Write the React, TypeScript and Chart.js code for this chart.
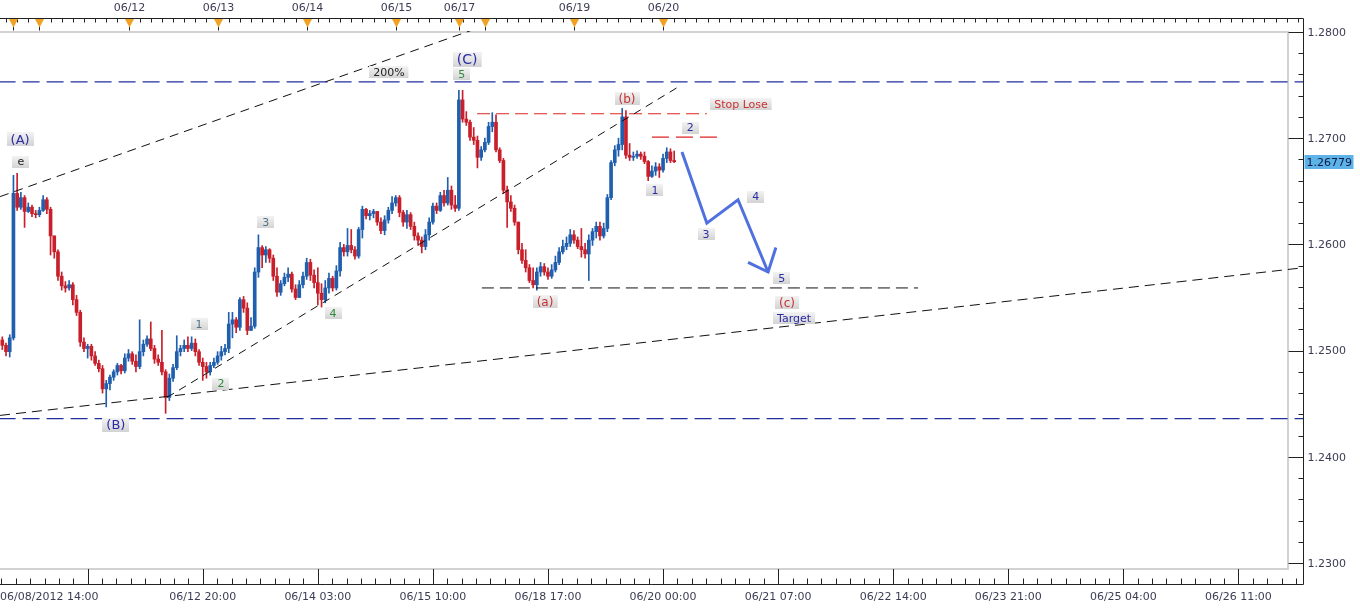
import React, { useEffect, useRef } from "react";
import { Chart, registerables } from "chart.js";

Chart.register(...registerables);

// ---------- hourly EUR/USD candles (bar 0 = 06/08/2012 14:00, weekends skipped) ----------
const open = [
  1.2510, 1.2505, 1.2499, 1.2512, 1.2648, 1.2635, 1.2644, 1.2631, 1.2635, 1.2629,
  1.2628, 1.2632, 1.2642, 1.2633, 1.2608, 1.2593, 1.2570, 1.2561, 1.2559, 1.2562,
  1.2548, 1.2536, 1.2508, 1.2502, 1.2504, 1.2495, 1.2488, 1.2483, 1.2464, 1.2469,
  1.2475, 1.2480, 1.2486, 1.2481, 1.2493, 1.2497, 1.2490, 1.2485, 1.2499, 1.2506,
  1.2511, 1.2502, 1.2492, 1.2489, 1.2480, 1.2456, 1.2474, 1.2484, 1.2499, 1.2502,
  1.2505, 1.2502, 1.2507, 1.2499, 1.2489, 1.2485, 1.2480, 1.2486, 1.2489, 1.2495,
  1.2499, 1.2502, 1.2525, 1.2529, 1.2522, 1.2548, 1.2540, 1.2519, 1.2523, 1.2574,
  1.2597, 1.2590, 1.2595, 1.2587, 1.2570, 1.2555, 1.2563, 1.2569, 1.2572, 1.2558,
  1.2550, 1.2562, 1.2570, 1.2583, 1.2571, 1.2564, 1.2554, 1.2548, 1.2559, 1.2568,
  1.2559, 1.2575, 1.2597, 1.2593, 1.2599, 1.2595, 1.2589, 1.2614, 1.2633, 1.2627,
  1.2629, 1.2631, 1.2621, 1.2613, 1.2623, 1.2632, 1.2639, 1.2644, 1.2630, 1.2621,
  1.2628, 1.2617, 1.2608, 1.2604, 1.2598, 1.2609, 1.2621, 1.2636, 1.2632, 1.2646,
  1.2639, 1.2651, 1.2637, 1.2634, 1.2736, 1.2718, 1.2715, 1.2701, 1.2698, 1.2682,
  1.2689, 1.2696, 1.2711, 1.2715, 1.2689, 1.2679, 1.2651, 1.2640, 1.2634, 1.2621,
  1.2595, 1.2585, 1.2578, 1.2566, 1.2562, 1.2574, 1.2579, 1.2574, 1.2570, 1.2576,
  1.2583, 1.2593, 1.2598, 1.2601, 1.2609, 1.2604, 1.2598, 1.2595, 1.2591, 1.2604,
  1.2612, 1.2617, 1.2608, 1.2615, 1.2644, 1.2677, 1.2689, 1.2694, 1.2720, 1.2684,
  1.2682, 1.2683, 1.2685, 1.2683, 1.2678, 1.2664, 1.2669, 1.2673, 1.2670, 1.2681,
  1.2687, 1.2679,
];
const high = [
  1.2513, 1.2507, 1.2515, 1.2665, 1.2667, 1.2649, 1.2646, 1.2639, 1.2637, 1.2632,
  1.2635, 1.2646, 1.2644, 1.2635, 1.2608, 1.2595, 1.2574, 1.2565, 1.2566, 1.2564,
  1.2552, 1.2538, 1.2512, 1.2506, 1.2506, 1.2499, 1.2491, 1.2486, 1.2472, 1.2477,
  1.2482, 1.2488, 1.2487, 1.2497, 1.2501, 1.2499, 1.2496, 1.2529, 1.2510, 1.2514,
  1.2527, 1.2505, 1.2496, 1.2519, 1.2482, 1.2478, 1.2487, 1.2514, 1.2505, 1.2510,
  1.2513, 1.2513, 1.2511, 1.2501, 1.2493, 1.2489, 1.2489, 1.2493, 1.2499, 1.2504,
  1.2506, 1.2536, 1.2536, 1.2531, 1.2550, 1.2551, 1.2545, 1.2531, 1.2578, 1.2609,
  1.2599, 1.2598, 1.2596, 1.2590, 1.2578, 1.2566, 1.2573, 1.2578, 1.2574, 1.2562,
  1.2566, 1.2574, 1.2587, 1.2586, 1.2576, 1.2578, 1.2563, 1.2566, 1.2573, 1.2570,
  1.2580, 1.2602, 1.2600, 1.2615, 1.2614, 1.2598, 1.2616, 1.2636, 1.2634, 1.2632,
  1.2633, 1.2631, 1.2625, 1.2627, 1.2635, 1.2645, 1.2646, 1.2646, 1.2632, 1.2632,
  1.2630, 1.2621, 1.2611, 1.2607, 1.2614, 1.2625, 1.2639, 1.2639, 1.2649, 1.2651,
  1.2663, 1.2655, 1.2646, 1.2745, 1.2745, 1.2725, 1.2717, 1.2710, 1.2702, 1.2692,
  1.2700, 1.2715, 1.2724, 1.2722, 1.2691, 1.2681, 1.2655, 1.2646, 1.2637, 1.2621,
  1.2601, 1.2595, 1.2581, 1.2578, 1.2578, 1.2583, 1.2582, 1.2578, 1.2581, 1.2589,
  1.2597, 1.2604, 1.2607, 1.2614, 1.2613, 1.2607, 1.2615, 1.2601, 1.2609, 1.2615,
  1.2621, 1.2621, 1.2620, 1.2647, 1.2679, 1.2693, 1.2700, 1.2728, 1.2726, 1.2695,
  1.2687, 1.2688, 1.2687, 1.2687, 1.2679, 1.2674, 1.2677, 1.2676, 1.2685, 1.2691,
  1.2690, 1.2688,
];
const low = [
  1.2501, 1.2495, 1.2494, 1.2510, 1.2632, 1.2633, 1.2616, 1.2630, 1.2626, 1.2625,
  1.2626, 1.2631, 1.2629, 1.2590, 1.2587, 1.2566, 1.2557, 1.2555, 1.2557, 1.2543,
  1.2533, 1.2504, 1.2499, 1.2493, 1.2491, 1.2486, 1.2480, 1.2460, 1.2447, 1.2463,
  1.2472, 1.2477, 1.2478, 1.2479, 1.2490, 1.2487, 1.2480, 1.2483, 1.2495, 1.2504,
  1.2500, 1.2488, 1.2486, 1.2477, 1.2441, 1.2453, 1.2471, 1.2482, 1.2495, 1.2499,
  1.2499, 1.2500, 1.2495, 1.2486, 1.2472, 1.2474, 1.2477, 1.2484, 1.2487, 1.2491,
  1.2496, 1.2498, 1.2512, 1.2517, 1.2519, 1.2536, 1.2515, 1.2519, 1.2521, 1.2569,
  1.2578, 1.2583, 1.2583, 1.2566, 1.2551, 1.2552, 1.2561, 1.2565, 1.2555, 1.2548,
  1.2550, 1.2559, 1.2567, 1.2566, 1.2559, 1.2543, 1.2541, 1.2545, 1.2554, 1.2556,
  1.2557, 1.2570, 1.2589, 1.2589, 1.2592, 1.2586, 1.2587, 1.2606, 1.2624, 1.2623,
  1.2625, 1.2618, 1.2610, 1.2609, 1.2620, 1.2629, 1.2636, 1.2626, 1.2617, 1.2615,
  1.2614, 1.2604, 1.2599, 1.2592, 1.2595, 1.2604, 1.2619, 1.2629, 1.2631, 1.2636,
  1.2637, 1.2633, 1.2631, 1.2632, 1.2715, 1.2712, 1.2698, 1.2694, 1.2672, 1.2679,
  1.2687, 1.2694, 1.2706, 1.2687, 1.2677, 1.2648, 1.2616, 1.2631, 1.2618, 1.2591,
  1.2582, 1.2574, 1.2564, 1.2559, 1.2557, 1.2570, 1.2571, 1.2567, 1.2568, 1.2574,
  1.2581, 1.2591, 1.2595, 1.2598, 1.2601, 1.2596, 1.2588, 1.2587, 1.2566, 1.2599,
  1.2606, 1.2604, 1.2606, 1.2612, 1.2642, 1.2674, 1.2683, 1.2689, 1.2681, 1.2679,
  1.2679, 1.2681, 1.2680, 1.2676, 1.2660, 1.2663, 1.2665, 1.2663, 1.2668, 1.2677,
  1.2677, 1.2677,
];
const close = [
  1.2505, 1.2499, 1.2512, 1.2648, 1.2635, 1.2644, 1.2631, 1.2635, 1.2629, 1.2628,
  1.2632, 1.2642, 1.2633, 1.2608, 1.2593, 1.2570, 1.2561, 1.2559, 1.2562, 1.2548,
  1.2536, 1.2508, 1.2502, 1.2504, 1.2495, 1.2488, 1.2483, 1.2464, 1.2469, 1.2475,
  1.2480, 1.2486, 1.2481, 1.2493, 1.2497, 1.2490, 1.2485, 1.2499, 1.2506, 1.2511,
  1.2502, 1.2492, 1.2489, 1.2480, 1.2456, 1.2474, 1.2484, 1.2499, 1.2502, 1.2505,
  1.2502, 1.2507, 1.2499, 1.2489, 1.2485, 1.2480, 1.2486, 1.2489, 1.2495, 1.2499,
  1.2502, 1.2525, 1.2529, 1.2522, 1.2548, 1.2540, 1.2519, 1.2523, 1.2574, 1.2597,
  1.2590, 1.2595, 1.2587, 1.2570, 1.2555, 1.2563, 1.2569, 1.2572, 1.2558, 1.2550,
  1.2562, 1.2570, 1.2583, 1.2571, 1.2564, 1.2554, 1.2548, 1.2559, 1.2568, 1.2559,
  1.2575, 1.2597, 1.2593, 1.2599, 1.2595, 1.2589, 1.2614, 1.2633, 1.2627, 1.2629,
  1.2631, 1.2621, 1.2613, 1.2623, 1.2632, 1.2639, 1.2644, 1.2630, 1.2621, 1.2628,
  1.2617, 1.2608, 1.2604, 1.2598, 1.2609, 1.2621, 1.2636, 1.2632, 1.2646, 1.2639,
  1.2651, 1.2637, 1.2634, 1.2736, 1.2718, 1.2715, 1.2701, 1.2698, 1.2682, 1.2689,
  1.2696, 1.2711, 1.2715, 1.2689, 1.2679, 1.2651, 1.2640, 1.2634, 1.2621, 1.2595,
  1.2585, 1.2578, 1.2566, 1.2562, 1.2574, 1.2579, 1.2574, 1.2570, 1.2576, 1.2583,
  1.2593, 1.2598, 1.2601, 1.2609, 1.2604, 1.2598, 1.2595, 1.2591, 1.2604, 1.2612,
  1.2617, 1.2608, 1.2615, 1.2644, 1.2677, 1.2689, 1.2694, 1.2720, 1.2684, 1.2682,
  1.2683, 1.2685, 1.2683, 1.2678, 1.2664, 1.2669, 1.2673, 1.2670, 1.2681, 1.2687,
  1.2679, 1.26779,
];

const lastPrice = 1.26779;

// ---------- axes ----------
const xMin = -0.62;
const xMax = 350.4;
const yMin = 1.22944;
const yMax = 1.28009;

const priceTicks = [1.23, 1.24, 1.25, 1.26, 1.27, 1.28];
const firstTimeLabel = "06/08/2012 14:00";
const timeTickBars = [23, 54, 85, 116, 147, 178, 209, 240, 271, 302, 333];
const timeTickLabels = [
  "", "06/12 20:00", "06/14 03:00", "06/15 10:00", "06/18 17:00", "06/20 00:00",
  "06/21 07:00", "06/22 14:00", "06/23 21:00", "06/25 04:00", "06/26 11:00",
];
const dayStartBars = [3, 10, 34, 58, 82, 106, 123, 130, 154, 178];
const dayLabels = ["", "", "06/12", "06/13", "06/14", "06/15", "06/17", "", "06/19", "06/20"];

// ---------- drawn analysis lines (bar index, price) ----------
const level200 = [[-1, 1.2753], [351, 1.2753]];
const levelLow = [[-1, 1.2436], [351, 1.2436]];
const upperChannel = [[-0.6, 1.2645], [130, 1.2806]];
const waveSupport = [[44.4, 1.2456], [182.0, 1.2748]];
const longSupport = [[-0.6, 1.2439], [350.4, 1.2578]];
const levelA = [[129.2, 1.2559], [246.7, 1.2559]];
const stopLevel = [[127.9, 1.2723], [189.8, 1.2723]];
const wave2Level = [[175.0, 1.2701], [192.8, 1.2701]];
const projection = [[183.1, 1.2687], [189.8, 1.2620], [198.2, 1.2642], [206.3, 1.2574]];
const arrowHead = [[200.9, 1.2583], [206.3, 1.2574], [208.4, 1.2597]];

const NAVY = "#2b2ba6";
const RED = "#c83232";
const GREEN = "#2f8a3a";
const SLATE = "#4f7385";
const BLACK = "#222222";

const waveLabels = [
  { text: "(A)", bar: 4.8, price: 1.2699, color: NAVY, size: 13 },
  { text: "e", bar: 5.0, price: 1.2678, color: BLACK, size: 11 },
  { text: "(B)", bar: 30.6, price: 1.2430, color: NAVY, size: 13 },
  { text: "1", bar: 53.0, price: 1.2525, color: SLATE, size: 11 },
  { text: "2", bar: 58.9, price: 1.2469, color: GREEN, size: 11 },
  { text: "3", bar: 71.0, price: 1.2621, color: SLATE, size: 11 },
  { text: "4", bar: 89.1, price: 1.2535, color: GREEN, size: 11 },
  { text: "200%", bar: 104.2, price: 1.2762, color: BLACK, size: 11 },
  { text: "5", bar: 123.8, price: 1.2760, color: GREEN, size: 11 },
  { text: "(C)", bar: 125.2, price: 1.2774, color: NAVY, size: 14 },
  { text: "(a)", bar: 146.2, price: 1.2546, color: RED, size: 12 },
  { text: "(b)", bar: 168.3, price: 1.2737, color: RED, size: 12 },
  { text: "1", bar: 175.8, price: 1.2651, color: NAVY, size: 11 },
  { text: "2", bar: 185.3, price: 1.2710, color: NAVY, size: 11 },
  { text: "Stop Lose", bar: 199.0, price: 1.2732, color: RED, size: 11 },
  { text: "3", bar: 189.6, price: 1.2610, color: NAVY, size: 11 },
  { text: "4", bar: 203.0, price: 1.2645, color: NAVY, size: 11 },
  { text: "5", bar: 210.0, price: 1.2568, color: NAVY, size: 11 },
  { text: "(c)", bar: 211.4, price: 1.2545, color: RED, size: 12 },
  { text: "Target", bar: 213.3, price: 1.2531, color: NAVY, size: 11 },
];

const UP = "#1f5fae";
const DOWN = "#c81f2a";
const AXIS_TEXT = "#3c3c54";
const FONT = '"DejaVu Sans", Verdana, sans-serif';

const toPts = (arr: number[][]) => arr.map(([x, y]) => ({ x, y }));

const decorPlugin = {
  id: "decor",
  beforeDraw(chart: any) {
    const { ctx, width, height, chartArea } = chart;
    ctx.save();
    ctx.fillStyle = "#ffffff";
    ctx.fillRect(0, 0, width, height);
    ctx.strokeStyle = "#d2d2d2";
    ctx.lineWidth = 2;
    ctx.beginPath();
    ctx.moveTo(0, chartArea.top + 1);
    ctx.lineTo(chartArea.right - 15, chartArea.top + 1);
    ctx.lineTo(chartArea.right - 15, chartArea.bottom);
    ctx.lineTo(0, chartArea.bottom);
    ctx.stroke();
    ctx.restore();
  },
  afterDraw(chart: any) {
    const { ctx, chartArea } = chart;
    const xs = chart.scales.x;
    const ys = chart.scales.y;
    const right = Math.round(chartArea.right) + 0.5;
    const topY = chartArea.top - 12.5;
    const botY = chartArea.bottom + 15.5;
    ctx.save();

    // ---- top time strip ----
    ctx.strokeStyle = "#222";
    ctx.lineWidth = 1;
    ctx.beginPath();
    ctx.moveTo(0, topY);
    ctx.lineTo(right, topY);
    for (let b = 1; b <= xMax; b += 3) {
      const px = Math.round(xs.getPixelForValue(b)) + 0.5;
      ctx.moveTo(px, topY);
      ctx.lineTo(px, topY + 4);
    }
    ctx.stroke();
    ctx.font = `11px ${FONT}`;
    ctx.textAlign = "center";
    ctx.textBaseline = "middle";
    dayStartBars.forEach((b, i) => {
      const px = Math.round(xs.getPixelForValue(b)) + 0.5;
      ctx.strokeStyle = "#222";
      ctx.beginPath();
      ctx.moveTo(px, topY);
      ctx.lineTo(px, topY + 12);
      ctx.stroke();
      ctx.fillStyle = "#f0a224";
      ctx.beginPath();
      ctx.moveTo(px - 4.5, topY + 0.5);
      ctx.lineTo(px + 4.5, topY + 0.5);
      ctx.lineTo(px, topY + 9);
      ctx.closePath();
      ctx.fill();
      if (dayLabels[i]) {
        ctx.fillStyle = AXIS_TEXT;
        ctx.fillText(dayLabels[i], px, 8);
      }
    });

    // ---- right price axis ----
    ctx.strokeStyle = "#222";
    ctx.beginPath();
    ctx.moveTo(right, topY);
    ctx.lineTo(right, botY);
    for (let k = 0; k <= 25; k++) {
      const v = 1.23 + k * 0.002;
      const py = Math.round(ys.getPixelForValue(v)) + 0.5;
      const major = k % 5 === 0;
      ctx.moveTo(right - (major ? 15 : 5), py);
      ctx.lineTo(right, py);
    }
    ctx.stroke();
    ctx.fillStyle = AXIS_TEXT;
    ctx.textAlign = "left";
    priceTicks.forEach((v) => {
      ctx.fillText(v.toFixed(4), right + 4, ys.getPixelForValue(v) + 1);
    });

    // last price marker
    const lp = ys.getPixelForValue(lastPrice);
    ctx.fillStyle = "#5db3e8";
    ctx.fillRect(right + 1, Math.round(lp) - 7, 49, 14);
    ctx.fillStyle = "#0c1a4a";
    ctx.fillText(lastPrice.toFixed(5), right + 3, lp + 1);

    // ---- bottom time axis ----
    ctx.strokeStyle = "#222";
    ctx.beginPath();
    ctx.moveTo(0, botY);
    ctx.lineTo(right, botY);
    for (let b = 23 - 31; b <= xMax; b += 31 / 8) {
      if (b < xMin) continue;
      const px = Math.round(xs.getPixelForValue(b)) + 0.5;
      ctx.moveTo(px, botY);
      ctx.lineTo(px, botY - 6);
    }
    timeTickBars.forEach((b) => {
      const px = Math.round(xs.getPixelForValue(b)) + 0.5;
      ctx.moveTo(px, botY);
      ctx.lineTo(px, chartArea.bottom);
    });
    ctx.stroke();
    ctx.fillStyle = AXIS_TEXT;
    ctx.textAlign = "center";
    timeTickBars.forEach((b, i) => {
      if (!timeTickLabels[i]) return;
      ctx.fillText(timeTickLabels[i], xs.getPixelForValue(b), 597);
    });
    ctx.textAlign = "left";
    ctx.fillText(firstTimeLabel, 0, 597);

    // ---- wave labels ----
    waveLabels.forEach((l) => {
      const cx = xs.getPixelForValue(l.bar);
      const cy = ys.getPixelForValue(l.price);
      ctx.font = `${l.size}px ${FONT}`;
      const tw = ctx.measureText(l.text).width;
      const w = Math.max(tw + 8, 17);
      const h = l.size + 1;
      const x0 = Math.round(cx - w / 2);
      const y0 = Math.round(cy - h / 2);
      const g = ctx.createLinearGradient(0, y0, 0, y0 + h);
      g.addColorStop(0, "#f3f3f3");
      g.addColorStop(1, "#d3d3d3");
      ctx.fillStyle = g;
      ctx.fillRect(x0, y0, w, h);
      ctx.fillStyle = l.color;
      ctx.textAlign = "center";
      ctx.textBaseline = "middle";
      ctx.fillText(l.text, cx, cy + 1);
    });

    ctx.restore();
  },
};

export default function App() {
  const ref = useRef<HTMLCanvasElement | null>(null);

  useEffect(() => {
    if (!ref.current) return;
    const idx = close.map((_, i) => i);
    const colors = idx.map((i) => (close[i] >= open[i] ? UP : DOWN));

    const lineDs = (pts: number[][], color: string, dash: number[], width: number, order: number) => ({
      type: "line" as const,
      data: toPts(pts),
      borderColor: color,
      borderWidth: width,
      borderDash: dash,
      pointRadius: 0,
      fill: false,
      tension: 0,
      order,
    });

    const chart = new Chart(ref.current, {
      type: "bar",
      data: {
        datasets: [
          {
            type: "bar",
            label: "body",
            data: idx.map((i) => ({ x: i, y: [open[i], close[i]] })) as any,
            backgroundColor: colors,
            borderWidth: 0,
            barThickness: 3,
            minBarLength: 1,
            grouped: false,
            order: 2,
          } as any,
          {
            type: "bar",
            label: "wick",
            data: idx.map((i) => ({ x: i, y: [low[i], high[i]] })) as any,
            backgroundColor: colors,
            borderWidth: 0,
            barThickness: 1,
            grouped: false,
            order: 3,
          } as any,
          lineDs(level200, "#1f2f9c", [17, 7], 1.2, 4),
          lineDs(levelLow, "#1f2f9c", [17, 7], 1.2, 4),
          lineDs(upperChannel, "#111111", [9, 6], 1, 1),
          lineDs(waveSupport, "#111111", [8, 6], 1, 1),
          lineDs(longSupport, "#111111", [10, 6], 1, 1),
          lineDs(levelA, "#111111", [12, 6], 1, 1),
          lineDs(stopLevel, "#e02424", [13, 6], 1.2, 1),
          lineDs(wave2Level, "#e02424", [17, 7], 1.2, 1),
          lineDs(projection, "#5070e0", [], 3, 0),
          lineDs(arrowHead, "#5070e0", [], 3, 0),
        ] as any,
      },
      options: {
        responsive: false,
        animation: false,
        devicePixelRatio: 1,
        events: [],
        layout: { padding: { left: 0, right: 57, top: 31, bottom: 39 } },
        plugins: { legend: { display: false }, tooltip: { enabled: false } },
        scales: {
          x: { type: "linear", min: xMin, max: xMax, display: false, offset: false },
          y: { type: "linear", min: yMin, max: yMax, display: false },
        },
      },
      plugins: [decorPlugin],
    } as any);

    return () => chart.destroy();
  }, []);

  return (
    <div style={{ position: "fixed", left: 0, top: 0, width: 1360, height: 608, background: "#fff" }}>
      <canvas ref={ref} width={1360} height={608} style={{ display: "block" }} />
    </div>
  );
}
